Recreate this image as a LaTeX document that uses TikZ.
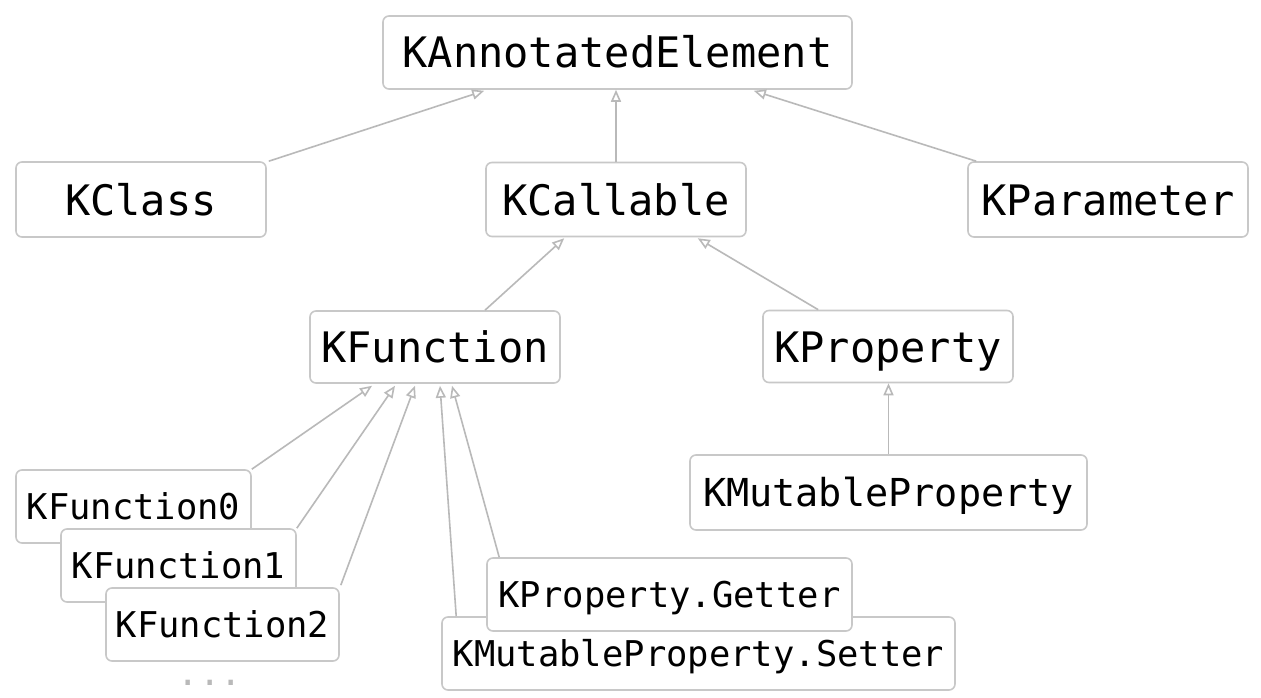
\documentclass[tikz,border=0pt]{standalone}
\usepackage{fontspec}
\setmonofont{DejaVu Sans Mono}
\usetikzlibrary{arrows.meta,calc}
\definecolor{boxline}{RGB}{200,200,200}
\definecolor{arrline}{RGB}{185,185,185}
\definecolor{dotgray}{RGB}{185,185,185}
\tikzset{
  umlbox/.style={draw=boxline, line width=1.6pt, rounded corners=6pt, fill=white,
    inner sep=0pt, text height=31pt, text depth=0pt,
    font=\ttfamily\fontsize{42}{50}\selectfont},
  midbox/.style={umlbox, text height=28.5pt, font=\ttfamily\fontsize{38.5}{46}\selectfont},
  smallbox/.style={umlbox, text height=26pt, font=\ttfamily\fontsize{35.5}{42}\selectfont},
  inh/.style={draw=arrline, line width=1.6pt,
    -{Triangle[open, length=12pt, width=10pt, fill=white]}}
}
\begin{document}
\begin{tikzpicture}[x=1pt,y=-1pt]
\useasboundingbox[fill=white] (0,0) rectangle (1261,698);
% top level
\node[umlbox, minimum width=469pt, minimum height=73pt] (ann) at (617.5,52.5) {KAnnotatedElement};
\node[umlbox, minimum width=250pt, minimum height=75pt] (cls) at (141,199.5) {KClass};
\node[umlbox, minimum width=260pt, minimum height=74pt] (cal) at (616,199.5) {KCallable};
\node[umlbox, minimum width=280pt, minimum height=75pt] (par) at (1108,199.5) {KParameter};
\node[umlbox, minimum width=250pt, minimum height=72pt] (fun) at (435,347) {KFunction};
\node[umlbox, minimum width=250pt, minimum height=72pt] (prop) at (888,346.5) {KProperty};
\node[midbox, minimum width=397pt, minimum height=75pt] (mprop) at (888.5,492.5) {KMutableProperty};
% function family
\node[smallbox, minimum width=235pt, minimum height=73pt] (f0) at (133.5,506.5) {KFunction0};
\node[smallbox, minimum width=235pt, minimum height=73pt] (f1) at (178.5,565.5) {KFunction1};
\node[smallbox, minimum width=233pt, minimum height=73pt] (f2) at (222.5,624.5) {KFunction2};
\node[text=dotgray, inner sep=0pt, font=\ttfamily\fontsize{35.5}{42}\selectfont] (dots) at (210,683) {...};
% accessors
\node[smallbox, minimum width=513pt, minimum height=73pt] (set) at (698.5,653.5) {KMutableProperty.Setter};
\node[smallbox, minimum width=365pt, minimum height=73pt] (get) at (669.5,594.5) {KProperty.Getter};
% inheritance arrows
\draw[inh] ($(cls.north east)+(2,0)$) -- ($(ann.south west)+(102,1)$);
\draw[inh] (cal.north) -- (cal.north |- ann.south);
\draw[inh] ($(par.north west)+(9,0)$) -- ($(ann.south east)+(-99,1)$);
\draw[inh] ($(fun.north)+(50,0)$) -- ($(cal.south west)+(79,1)$);
\draw[inh] ($(prop.north west)+(56,0)$) -- ($(cal.south east)+(-49,1)$);
\draw[inh] (mprop.north) -- (mprop.north |- prop.south);
\draw[inh] (f0.north east) -- ($(fun.south)+(-63,2)$);
\draw[inh] (f1.north east) -- ($(fun.south)+(-40,2)$);
\draw[inh] ($(f2.north east)+(1,-2)$) -- ($(fun.south)+(-20,2)$);
\draw[inh] ($(set.north west)+(15,0)$) -- ($(fun.south)+(5,2)$);
\draw[inh] ($(get.north west)+(13,0)$) -- ($(fun.south)+(17,2)$);
\end{tikzpicture}
\end{document}
